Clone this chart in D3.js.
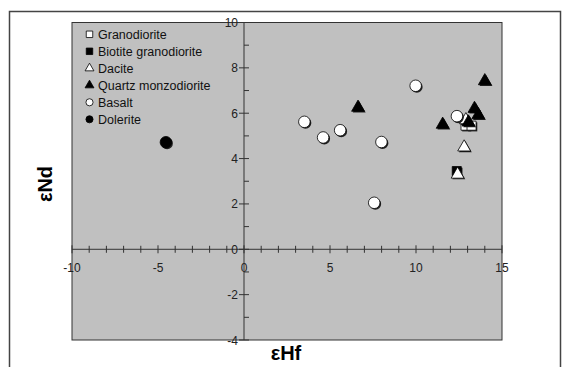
<!DOCTYPE html>
<html>
<head>
<meta charset="utf-8">
<script src="https://cdn.jsdelivr.net/npm/d3@7"></script>
<style>
  body { margin: 0; background: #fff; }
  svg { display: block; font-family: "Liberation Sans", Arial, sans-serif; }
</style>
</head>
<body>
<svg id="chart" width="564" height="367"></svg>
<script>
// data (eHf, eNd)
const granodiorite = [[12.88, 5.45], [13.23, 5.45]];
const biotiteGranodiorite = [[12.37, 3.45]];
const dacite = [[12.42, 3.3], [12.8, 4.5], [12.9, 5.7]];
const quartzMonzodiorite = [[6.63, 6.25], [11.55, 5.5], [13.05, 5.6], [13.4, 6.2], [13.62, 5.92], [14.0, 7.42]];
const basalt = [[3.51, 5.62], [4.6, 4.93], [5.59, 5.25], [7.57, 2.05], [7.99, 4.73], [9.98, 7.21], [12.38, 5.87]];
const dolerite = [[-4.54, 4.72]];

const xTicks = [-10, -5, 0, 5, 10, 15];
const yTicks = [-4, -2, 0, 2, 4, 6, 8, 10];

const series = [
  { name: 'Granodiorite', data: granodiorite, shape: d3.symbolSquare, fill: '#fff' },
  { name: 'Biotite granodiorite', data: biotiteGranodiorite, shape: d3.symbolSquare, fill: '#000' },
  { name: 'Dacite', data: dacite, shape: d3.symbolTriangle, fill: '#fff' },
  { name: 'Quartz monzodiorite', data: quartzMonzodiorite, shape: d3.symbolTriangle, fill: '#000' },
  { name: 'Basalt', data: basalt, shape: d3.symbolCircle, fill: '#fff' },
  { name: 'Dolerite', data: dolerite, shape: d3.symbolCircle, fill: '#000' }
];

const plot = { left: 72, right: 502, top: 22.5, bottom: 340 };
const svg = d3.select('#chart');

// outer frame
svg.append('rect')
  .attr('x', 9.5).attr('y', 11.5)
  .attr('width', 551).attr('height', 370)
  .attr('fill', 'none')
  .attr('stroke', '#444')
  .attr('stroke-width', 1.5);

const x = d3.scaleLinear().domain([-10, 15]).range([plot.left, plot.right]);
const y = d3.scaleLinear().domain([-4, 10]).range([plot.bottom, plot.top]);

svg.append('rect')
  .attr('x', plot.left).attr('y', plot.top)
  .attr('width', plot.right - plot.left)
  .attr('height', plot.bottom - plot.top)
  .attr('fill', '#c0c0c0')
  .attr('stroke', '#333')
  .attr('stroke-width', 1);

// axes crossing at the origin
const gx = svg.append('g').attr('transform', `translate(0,${y(0)})`);
gx.append('line')
  .attr('x1', plot.left).attr('x2', plot.right)
  .attr('stroke', '#333');
gx.selectAll('.tick')
  .data(d3.range(-10, 16))
  .enter()
  .append('line')
  .attr('x1', (d) => x(d)).attr('x2', (d) => x(d))
  .attr('y1', (d) => (d % 5 === 0 ? -4 : -3.5))
  .attr('y2', (d) => (d % 5 === 0 ? 4 : 3.5))
  .attr('stroke', '#333');
gx.selectAll('.lbl')
  .data(xTicks)
  .enter()
  .append('text')
  .attr('x', (d) => x(d))
  .attr('y', 23)
  .attr('text-anchor', 'middle')
  .attr('font-size', 12)
  .attr('fill', '#222')
  .text((d) => d);

const gy = svg.append('g').attr('transform', `translate(${x(0)},0)`);
gy.append('line')
  .attr('y1', plot.top).attr('y2', plot.bottom)
  .attr('stroke', '#333');
gy.selectAll('.tick')
  .data(d3.range(-4, 11))
  .enter()
  .append('line')
  .attr('y1', (d) => y(d)).attr('y2', (d) => y(d))
  .attr('x1', (d) => (d % 2 === 0 ? -5 : 0))
  .attr('x2', 5)
  .attr('stroke', '#333');
gy.selectAll('.lbl')
  .data(yTicks)
  .enter()
  .append('text')
  .attr('x', -6)
  .attr('y', (d) => y(d) + 4.5)
  .attr('text-anchor', 'end')
  .attr('font-size', 12)
  .attr('fill', '#222')
  .text((d) => d);

// axis titles
svg.append('text')
  .attr('x', 286).attr('y', 360)
  .attr('text-anchor', 'middle')
  .attr('font-size', 20)
  .attr('font-weight', 'bold')
  .text('εHf');

svg.append('text')
  .attr('transform', 'translate(52,184) rotate(-90)')
  .attr('text-anchor', 'middle')
  .attr('font-size', 20)
  .attr('font-weight', 'bold')
  .text('εNd');

// points, with the small dark drop shadow
function symbolSize(shape, legend) {
  if (shape === d3.symbolSquare) return legend ? 42 : 82;
  if (shape === d3.symbolTriangle) return legend ? 34 : 72;
  return legend ? 40 : 105;
}

series.forEach((s) => {
  const sym = d3.symbol().type(s.shape).size(symbolSize(s.shape, false));
  const g = svg.append('g');
  g.selectAll('.shadow')
    .data(s.data)
    .enter()
    .append('path')
    .attr('d', sym)
    .attr('transform', (d) => `translate(${x(d[0]) + 1.2},${y(d[1]) + 1.2})`)
    .attr('fill', '#222');
  g.selectAll('.pt')
    .data(s.data)
    .enter()
    .append('path')
    .attr('d', sym)
    .attr('transform', (d) => `translate(${x(d[0])},${y(d[1])})`)
    .attr('fill', s.fill)
    .attr('stroke', '#000')
    .attr('stroke-width', 0.8);
});

// legend
const legend = svg.append('g').attr('transform', 'translate(89.5,34.3)');
series.forEach((s, i) => {
  const sym = d3.symbol().type(s.shape).size(symbolSize(s.shape, true));
  legend.append('path')
    .attr('d', sym)
    .attr('transform', `translate(0,${i * 17})`)
    .attr('fill', s.fill)
    .attr('stroke', '#000')
    .attr('stroke-width', 0.8);
  legend.append('text')
    .attr('x', 8.5)
    .attr('y', i * 17 + 4.5)
    .attr('font-size', 12.5)
    .attr('fill', '#111')
    .text(s.name);
});
</script>
</body>
</html>
